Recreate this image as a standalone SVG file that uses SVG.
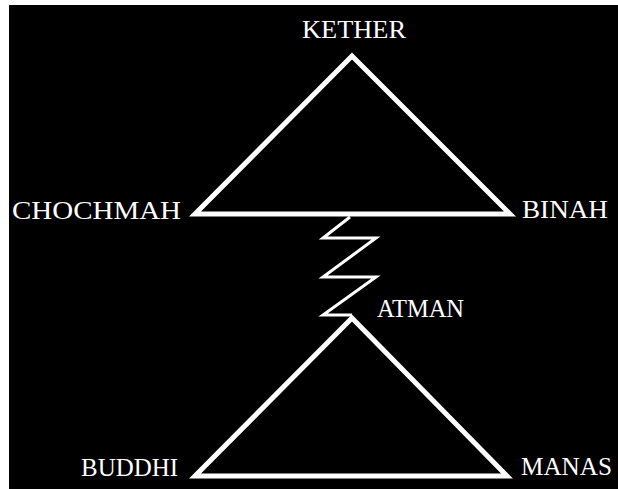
<svg xmlns="http://www.w3.org/2000/svg" width="618" height="489" viewBox="0 0 618 489">
<style>
.lbl{font-family:"Liberation Serif","DejaVu Serif",serif;font-size:26px;fill:#fff}
.tri{fill:none;stroke:#fff;stroke-width:5;stroke-linejoin:miter}
.zz{fill:none;stroke:#fff;stroke-width:3;stroke-linejoin:miter}
</style>
<rect x="0" y="0" width="618" height="489" fill="#fff"/>
<rect x="9" y="5" width="609" height="484" fill="#000"/>
<g id="connectors">
<polyline class="zz" points="350,217 323,238 376,238 323,277 376,277 323,315 352,315"/>
</g>
<g id="upper-triangle">
<polygon class="tri" points="352,56 195,214 510,214"/>
</g>
<g id="lower-triangle">
<polygon class="tri" points="352,318 195,476 507,476"/>
</g>
<g id="kether"><text class="lbl" x="302" y="38" textLength="104" lengthAdjust="spacingAndGlyphs">KETHER</text></g>
<g id="chochmah"><text class="lbl" x="12" y="219" textLength="169" lengthAdjust="spacingAndGlyphs">CHOCHMAH</text></g>
<g id="binah"><text class="lbl" x="522" y="218" textLength="86" lengthAdjust="spacingAndGlyphs">BINAH</text></g>
<g id="atman"><text class="lbl" x="377" y="317" textLength="87" lengthAdjust="spacingAndGlyphs">ATMAN</text></g>
<g id="buddhi"><text class="lbl" x="81" y="476" textLength="97" lengthAdjust="spacingAndGlyphs">BUDDHI</text></g>
<g id="manas"><text class="lbl" x="521" y="475" textLength="91" lengthAdjust="spacingAndGlyphs">MANAS</text></g>
</svg>
